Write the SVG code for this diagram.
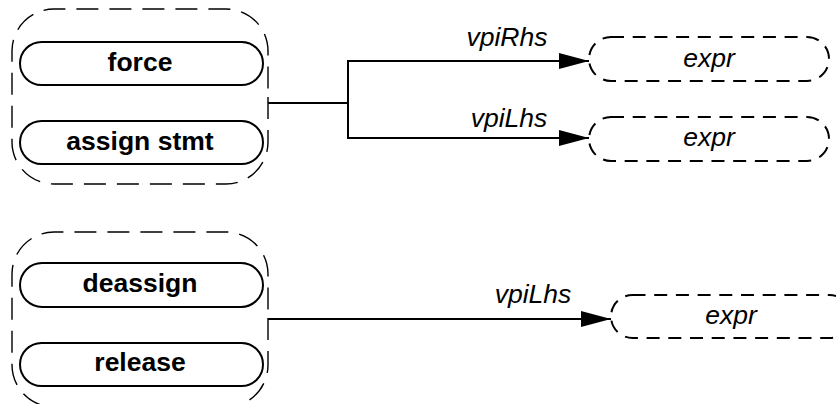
<svg xmlns="http://www.w3.org/2000/svg" width="836" height="404" viewBox="0 0 836 404">
<defs>
<marker id="arr" viewBox="0 0 30 16" refX="30" refY="8" markerWidth="30" markerHeight="16" markerUnits="userSpaceOnUse" orient="auto">
<path d="M0,0 L30,8 L0,16 Z" fill="#000"/>
</marker>
</defs>
<style>
.outer{fill:none;stroke:#000;stroke-width:1.4;stroke-dasharray:22 11}
.pill{fill:#fff;stroke:#000;stroke-width:2}
.ref{fill:#fff;stroke:#000;stroke-width:2;stroke-dasharray:13 8.7}
.bt{font-family:"Liberation Sans",Arial,sans-serif;font-weight:bold;font-size:26.5px;text-anchor:middle}
.it{font-family:"Liberation Sans",Arial,sans-serif;font-style:italic;font-size:26.5px;text-anchor:middle}
.conn{fill:none;stroke:#000;stroke-width:2}
</style>
<g id="group1">
<path class="outer" d="M268,97 L268,142 A42,42 0 0 1 226,184 L54,184 A42,42 0 0 1 12,142 L12,51 A42,42 0 0 1 54,9 L226,9 A42,42 0 0 1 268,51 Z"/>
<g id="force"><rect class="pill" x="20" y="42" width="243" height="43" rx="21.5"/><text class="bt" x="140" y="71">force</text></g>
<g id="assign"><rect class="pill" x="20" y="121" width="243" height="43" rx="21.5"/><text class="bt" x="140" y="150">assign stmt</text></g>
</g>
<g id="group2">
<path class="outer" d="M268,318 L268,365 A42,42 0 0 1 226,407 L54,407 A42,42 0 0 1 12,365 L12,274 A42,42 0 0 1 54,232 L226,232 A42,42 0 0 1 268,274 Z"/>
<g id="deassign"><rect class="pill" x="20" y="263" width="243" height="44" rx="22"/><text class="bt" x="140" y="292">deassign</text></g>
<g id="release"><rect class="pill" x="20" y="343" width="243" height="43" rx="21.5"/><text class="bt" x="140" y="371">release</text></g>
</g>
<g id="expr1"><rect class="ref" x="589" y="37" width="240" height="44" rx="22"/><text class="it" x="709" y="67">expr</text></g>
<g id="expr2"><rect class="ref" x="589" y="117" width="240" height="44" rx="22"/><text class="it" x="709" y="146">expr</text></g>
<g id="expr3"><rect class="ref" x="611" y="295" width="240" height="43" rx="21.5"/><text class="it" x="731" y="324">expr</text></g>
<g id="connectors">
<path class="conn" d="M268,103 L348,103 M348,60 L348,139"/>
<path class="conn" d="M348,61 L589,61" marker-end="url(#arr)"/>
<path class="conn" d="M348,138 L589,138" marker-end="url(#arr)"/>
<path class="conn" d="M268,319 L611,319" marker-end="url(#arr)"/>
<text class="it" x="507" y="46">vpiRhs</text>
<text class="it" x="509" y="127">vpiLhs</text>
<text class="it" x="533" y="303">vpiLhs</text>
</g>
</svg>
